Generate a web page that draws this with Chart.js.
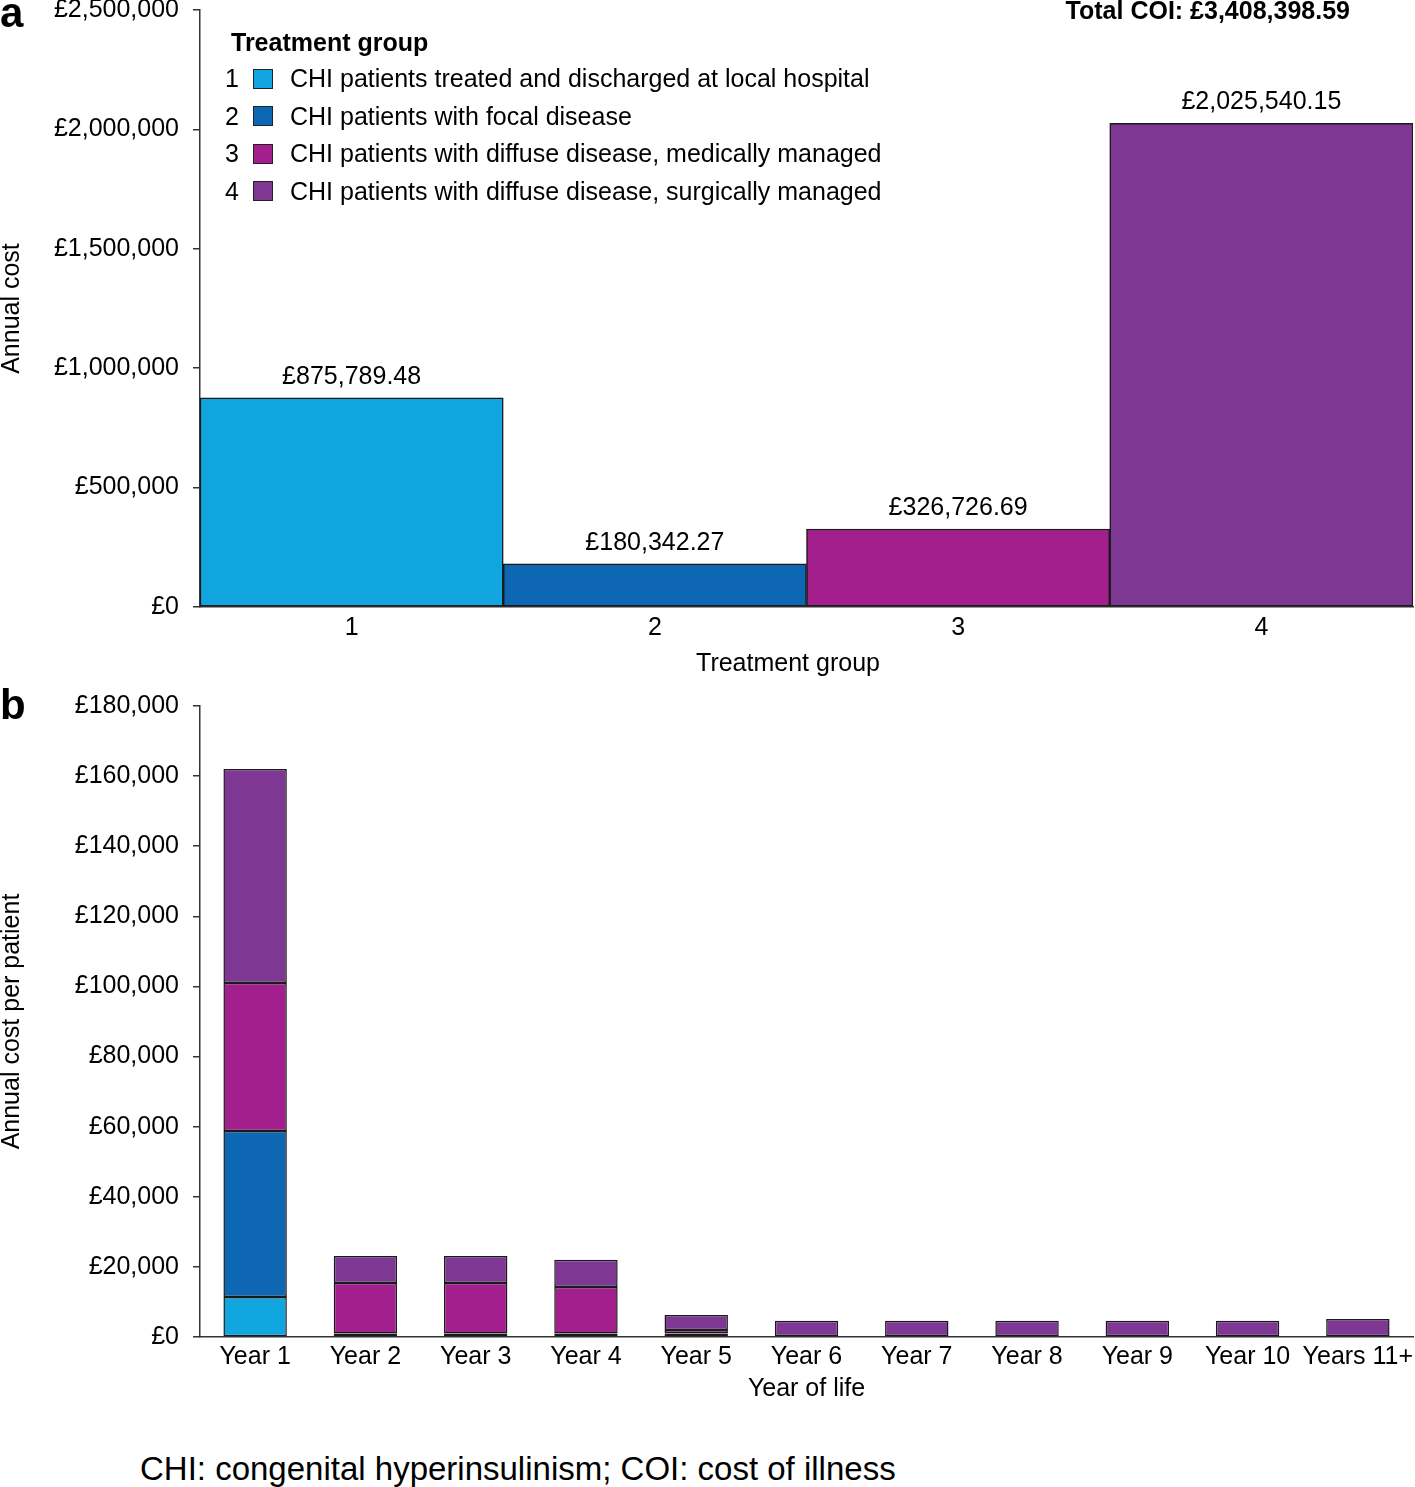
<!DOCTYPE html>
<html>
<head>
<meta charset="utf-8">
<script src="https://cdn.jsdelivr.net/npm/chart.js@4.4.1/dist/chart.umd.min.js"></script>
<style>
body { margin: 0; background: #fff; font-family: "Liberation Sans", Arial, sans-serif; color: #000; }
#wrap { position: relative; width: 1415px; height: 1487px; overflow: hidden; }
canvas { position: absolute; left: 0; }
#chartA { top: 0; }
#chartB { top: 690px; }
.panel { position: absolute; left: 0; font-weight: bold; font-size: 42px; line-height: 42px; }
#total { position: absolute; right: 65px; top: -4px; font-weight: bold; font-size: 25px; line-height: 28px; }
#legend { position: absolute; left: 220px; top: 27px; font-size: 25px; }
#legend .head { font-weight: bold; height: 33px; line-height: 30px; margin-left: 11px; }
#legend .row { height: 37.5px; line-height: 37.5px; display: flex; align-items: center; }
#legend .num { width: 24px; text-align: center; }
#legend .box { width: 18px; height: 18px; border: 1px solid #222; margin: 0 17px 0 9px; }
#xTitleA { position: absolute; left: 588px; width: 400px; text-align: center; top: 647px; font-size: 25px; line-height: 30px; }
#note { position: absolute; left: 140px; top: 1449px; font-size: 33px; line-height: 40px; }
</style>
</head>
<body>
<div id="wrap">
  <canvas id="chartA" width="1415" height="690"></canvas>
  <canvas id="chartB" width="1415" height="730"></canvas>
  <div class="panel" style="top:-8px">a</div>
  <div class="panel" style="top:684px">b</div>
  <div id="total"></div>
  <div id="legend"></div>
  <div id="xTitleA">Treatment group</div>
  <div id="note">CHI: congenital hyperinsulinism; COI: cost of illness</div>
</div>
<script>
// Treatment groups
const groupIds = ['1', '2', '3', '4'];
const groupNames = [
    'CHI patients treated and discharged at local hospital',
    'CHI patients with focal disease',
    'CHI patients with diffuse disease, medically managed',
    'CHI patients with diffuse disease, surgically managed'
];
const groupColors = ['#12A6E0', '#0E67B2', '#A31F8E', '#7E3894'];

// Panel a: total annual cost by group
const groupCost = [875789.48, 180342.27, 326726.69, 2025540.15];
const costTicksA = { max: 2500000, step: 500000 };

// Panel b: annual cost per patient by year of life
const years = ['Year 1', 'Year 2', 'Year 3', 'Year 4', 'Year 5', 'Year 6', 'Year 7', 'Year 8', 'Year 9', 'Year 10', 'Years 11+'];
const group1PerYear = [11400, 200, 200, 200, 200, 0, 0, 0, 0, 0, 0];
const group2PerYear = [47350, 800, 800, 800, 800, 0, 0, 0, 0, 0, 0];
const group3PerYear = [42200, 14400, 14400, 13260, 1000, 0, 0, 0, 0, 0, 0];
const group4PerYear = [61050, 7700, 7700, 7790, 4270, 4650, 4650, 4650, 4650, 4650, 5130];
const costTicksB = { max: 180000, step: 20000 };

const pounds = v => '£' + Number(v).toLocaleString('en-GB');
const pounds2 = v => '£' + Number(v).toLocaleString('en-GB', { minimumFractionDigits: 2, maximumFractionDigits: 2 });

Chart.defaults.font.family = '"Liberation Sans", Arial, sans-serif';
Chart.defaults.font.size = 25;
Chart.defaults.color = '#000';

// legend + total text
const legendEl = document.getElementById('legend');
legendEl.innerHTML = '<div class="head">Treatment group</div>' + groupIds.map((id, i) =>
    `<div class="row"><span class="num">${id}</span><span class="box" style="background:${groupColors[i]}"></span><span>${groupNames[i]}</span></div>`
).join('');
const totalCost = groupCost.reduce((a, b) => a + b, 0);
document.getElementById('total').textContent = 'Total COI: ' + pounds2(totalCost);

// value labels above bars in panel a
const barValueLabels = {
    id: 'barValueLabels',
    afterDatasetsDraw(chart) {
        const ctx = chart.ctx;
        ctx.save();
        ctx.font = '25px "Liberation Sans"';
        ctx.fillStyle = '#000';
        ctx.textAlign = 'center';
        ctx.textBaseline = 'middle';
        chart.getDatasetMeta(0).data.forEach((bar, i) => {
            ctx.fillText(pounds2(groupCost[i]), bar.x, bar.y - 21);
        });
        ctx.restore();
    }
};

function yAxis(ticks, title) {
    return {
        min: 0,
        max: ticks.max,
        ticks: { stepSize: ticks.step, padding: 14, callback: v => pounds(v) },
        grid: { drawOnChartArea: false, drawTicks: true, tickLength: 7, color: '#333', lineWidth: 1.5 },
        border: { color: '#333', width: 1.5 },
        title: { display: true, text: title, padding: 0, font: { size: 25, lineHeight: 1 } },
        afterFit(scale) {
            scale.width = 200;
            scale.paddingTop = 0;
            scale.paddingBottom = 0;
        }
    };
}

function xAxis(title, height, tickPad, titlePad) {
    return {
        grid: { display: false, drawTicks: false },
        border: { color: '#333', width: 1.5 },
        ticks: { padding: tickPad, maxRotation: 0, autoSkip: false },
        title: { display: !!title, text: title, padding: { top: 0, bottom: titlePad } },
        afterFit(scale) {
            scale.height = height;
            scale.paddingLeft = 0;
            scale.paddingRight = 0;
        }
    };
}

// Panel a
new Chart(document.getElementById('chartA'), {
    type: 'bar',
    data: {
        labels: groupIds,
        datasets: [{
            data: groupCost,
            backgroundColor: groupColors,
            borderColor: '#1a1a1a',
            borderWidth: 1.5,
            borderSkipped: false,
            barPercentage: 1,
            categoryPercentage: 1
        }]
    },
    options: {
        responsive: false,
        animation: false,
        layout: { padding: { top: 10, right: 2, left: 0, bottom: 0 } },
        plugins: { legend: { display: false }, tooltip: { enabled: false } },
        scales: {
            x: xAxis('', 83, 6, 14),
            y: yAxis(costTicksA, 'Annual cost')
        }
    },
    plugins: [barValueLabels]
});

// Panel b
const perYear = [group1PerYear, group2PerYear, group3PerYear, group4PerYear];
new Chart(document.getElementById('chartB'), {
    type: 'bar',
    data: {
        labels: years,
        datasets: perYear.map((vals, i) => ({
            label: groupNames[i],
            data: vals,
            backgroundColor: groupColors[i],
            borderColor: '#1a1a1a',
            borderWidth: c => (c.raw > 0 ? 1.5 : 0),
            borderSkipped: false,
            barPercentage: 0.575,
            categoryPercentage: 1
        }))
    },
    options: {
        responsive: false,
        animation: false,
        layout: { padding: { top: 16, right: 2, left: 0, bottom: 0 } },
        plugins: { legend: { display: false }, tooltip: { enabled: false } },
        scales: {
            x: Object.assign(xAxis('Year of life', 83, 5, 16), { stacked: true }),
            y: Object.assign(yAxis(costTicksB, 'Annual cost per patient'), { stacked: true })
        }
    }
});
</script>
</body>
</html>
